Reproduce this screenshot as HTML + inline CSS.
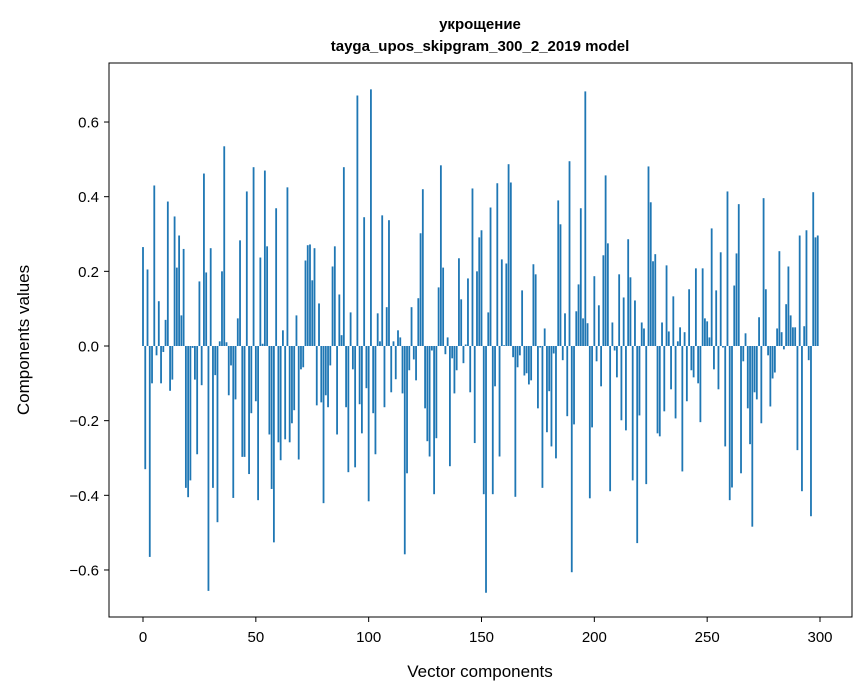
<!DOCTYPE html>
<html><head><meta charset="utf-8"><style>
html,body{margin:0;padding:0;background:#fff}
svg{display:block;font-family:"Liberation Sans","DejaVu Sans",sans-serif}
</style></head><body>
<svg id="chart" width="867" height="696" viewBox="0 0 867 696">
<text x="480" y="29" text-anchor="middle" font-size="15" font-weight="bold">укрощение</text>
<text x="480" y="51" text-anchor="middle" font-size="15" font-weight="bold">tayga_upos_skipgram_300_2_2019 model</text>
<g id="bars"></g>
<rect x="109" y="63" width="743" height="554" fill="none" stroke="#000" stroke-width="1"/>
<g id="xticks"></g>
<g id="yticks"></g>
<text x="480" y="677" text-anchor="middle" font-size="17">Vector components</text>
<text transform="translate(29,340) rotate(-90)" text-anchor="middle" font-size="17">Components values</text>
</svg>
<script>
const values = [
0.265,-0.33,0.205,-0.565,-0.10,0.43,-0.025,0.12,-0.10,-0.016,
0.07,0.387,-0.12,-0.09,0.347,0.21,0.296,0.082,0.26,-0.38,
-0.405,-0.36,-0.005,-0.09,-0.29,0.173,-0.105,0.462,0.197,-0.656,
0.262,-0.38,-0.078,-0.472,0.0125,0.2,0.535,0.01,-0.132,-0.052,
-0.407,-0.143,0.074,0.283,-0.297,-0.297,0.414,-0.343,-0.18,0.479,
-0.148,-0.413,0.237,0.006,0.47,0.267,-0.237,-0.383,-0.526,0.369,
-0.258,-0.306,0.042,-0.25,0.425,-0.258,-0.207,-0.172,0.082,-0.304,
-0.0625,-0.057,0.229,0.27,0.272,0.176,0.262,-0.159,0.114,-0.151,
-0.421,-0.132,-0.164,-0.052,0.213,0.267,-0.237,0.138,0.029,0.479,
-0.164,-0.338,0.09,-0.0625,-0.325,0.671,-0.156,-0.234,0.345,-0.113,
-0.416,0.6875,-0.18,-0.29,0.0875,0.0125,0.35,-0.164,0.104,0.337,
-0.124,0.0125,-0.089,0.042,0.023,-0.127,-0.558,-0.341,-0.065,0.104,
-0.036,-0.092,0.128,0.302,0.42,-0.167,-0.255,-0.296,-0.012,-0.397,
-0.247,0.157,0.484,0.21,-0.022,0.023,-0.322,-0.033,-0.127,-0.065,
0.235,0.125,-0.046,0.004,0.181,-0.124,0.422,-0.26,0.2,0.291,
0.31,-0.397,-0.661,0.09,0.371,-0.397,-0.108,0.436,-0.296,0.232,
0.002,0.221,0.487,0.438,-0.03,-0.404,-0.057,-0.025,0.149,-0.079,
-0.073,-0.103,-0.092,0.219,0.192,-0.167,-0.004,-0.38,0.047,-0.231,
-0.121,-0.269,-0.02,-0.301,0.39,0.326,-0.038,0.0875,-0.188,0.495,
-0.606,-0.21,0.093,0.165,0.369,0.074,0.682,0.061,-0.408,-0.218,
0.187,-0.041,0.109,-0.108,0.243,0.457,0.275,-0.389,0.063,-0.012,
-0.084,0.192,-0.199,0.13,-0.226,0.286,0.184,-0.36,0.122,-0.528,
-0.186,0.063,0.047,-0.37,0.481,0.385,0.227,0.246,-0.234,-0.242,
0.063,-0.175,0.216,0.039,-0.116,0.133,-0.194,0.0125,0.05,-0.336,
0.037,-0.148,0.152,-0.065,-0.084,0.208,-0.1,-0.204,0.208,0.074,
0.066,0.023,0.315,-0.0625,0.149,-0.116,0.251,-0.004,-0.269,0.414,
-0.413,-0.379,0.162,0.248,0.38,-0.341,-0.041,0.034,-0.167,-0.263,
-0.484,-0.124,-0.143,0.077,-0.207,0.396,0.152,-0.025,-0.162,-0.087,
-0.071,0.047,0.254,0.037,-0.009,0.112,0.213,0.082,0.05,0.05,
-0.279,0.296,-0.389,0.053,0.31,-0.038,-0.456,0.412,0.291,0.296
];
const xTicks = [0,50,100,150,200,250,300];
const yTicks = [-0.6,-0.4,-0.2,0.0,0.2,0.4,0.6];
const yTickLabels = ["\u22120.6","\u22120.4","\u22120.2","0.0","0.2","0.4","0.6"];

const NS = "http://www.w3.org/2000/svg";
const xs = v => 143 + v * (677/300);
const ys = v => 346 - v * 373.3;
const barsG = document.getElementById('bars');
values.forEach((v,i)=>{
  const r = document.createElementNS(NS,'rect');
  const w = 0.8*(677/300);
  r.setAttribute('x', xs(i)-w/2);
  r.setAttribute('width', w);
  r.setAttribute('y', Math.min(ys(v), ys(0)));
  r.setAttribute('height', Math.abs(ys(v)-ys(0)));
  r.setAttribute('fill','#1f77b4');
  
  
  barsG.appendChild(r);
});
const xg = document.getElementById('xticks');
xTicks.forEach(t=>{
  const l = document.createElementNS(NS,'line');
  l.setAttribute('x1',xs(t));l.setAttribute('x2',xs(t));
  l.setAttribute('y1',617);l.setAttribute('y2',622);
  l.setAttribute('stroke','#000');
  
  
  xg.appendChild(l);
  const tx = document.createElementNS(NS,'text');
  tx.setAttribute('x',xs(t));tx.setAttribute('y',642);
  tx.setAttribute('text-anchor','middle');tx.setAttribute('font-size','15');
  tx.textContent = t;
  
  
  xg.appendChild(tx);
});
const yg = document.getElementById('yticks');
yTicks.forEach((t,k)=>{
  const l = document.createElementNS(NS,'line');
  l.setAttribute('x1',104);l.setAttribute('x2',109);
  l.setAttribute('y1',ys(t));l.setAttribute('y2',ys(t));
  l.setAttribute('stroke','#000');
  
  
  yg.appendChild(l);
  const tx = document.createElementNS(NS,'text');
  tx.setAttribute('x',99);tx.setAttribute('y',ys(t)+5.5);
  tx.setAttribute('text-anchor','end');tx.setAttribute('font-size','15');
  tx.textContent = yTickLabels[k];
  
  
  yg.appendChild(tx);
});
</script>
</body></html>
